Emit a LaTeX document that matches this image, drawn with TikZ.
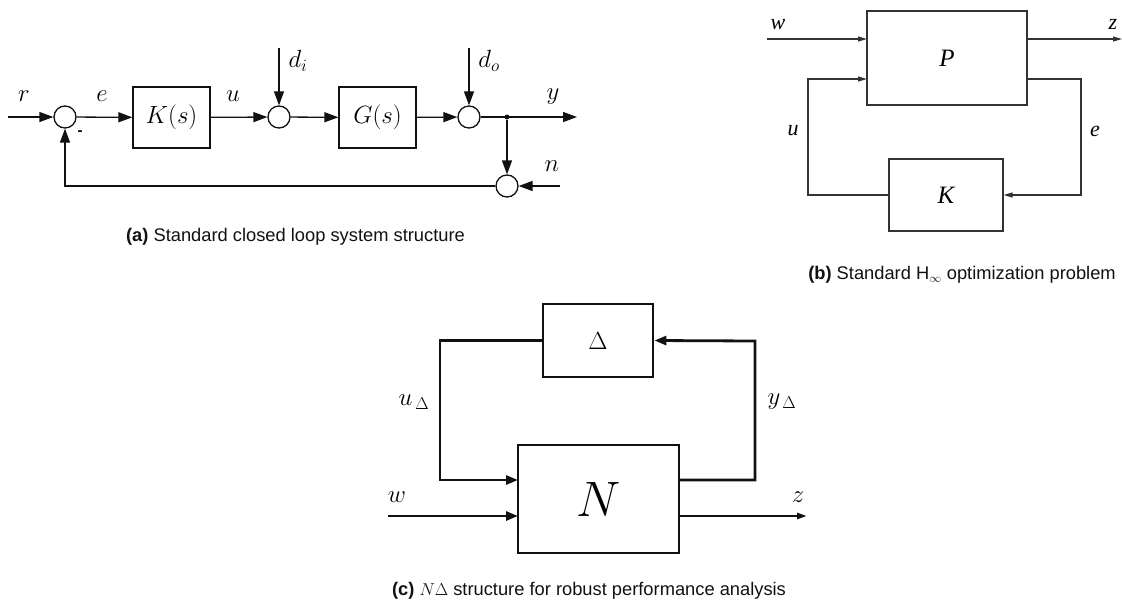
\documentclass[tikz,border=0pt]{standalone}
\usepackage{amsmath}
\usepackage{fontspec}
\setmainfont{Liberation Sans}
\newfontfamily\tmsfont{Liberation Serif}
\usepackage{tikz}
\usetikzlibrary{arrows.meta,positioning,calc}
\definecolor{Ink}{HTML}{111111}
\definecolor{Wire}{HTML}{333333}
\tikzset{
  blockA/.style={draw=Ink,line width=1.3pt,minimum width=77pt,minimum height=61pt,inner sep=0pt,font=\fontsize{26}{29}\selectfont},
  sumA/.style={draw=Ink,line width=1.3pt,circle,minimum size=22pt,inner sep=0pt},
  dotA/.style={fill=Ink,circle,minimum size=5pt,inner sep=0pt},
  sigA/.style={-{Triangle[length=14pt,width=10pt]},line width=1.3pt,draw=Ink},
  lblA/.style={font=\fontsize{26}{29}\selectfont,inner sep=0pt},
  blockB/.style={draw=Wire,line width=1.2pt,inner sep=0pt,font=\fontsize{25}{28}\selectfont\tmsfont\itshape},
  sigB/.style={-{Triangle[length=9pt,width=5pt]},line width=1.2pt,draw=Wire},
  lblB/.style={font=\fontsize{22}{25}\selectfont\tmsfont\itshape,inner sep=0pt},
  blockC/.style={draw=Ink,line width=2.8pt,inner sep=0pt},
  sigC/.style={-{Triangle[length=12pt,width=9pt]},line width=2.8pt,draw=Ink},
  lblC/.style={font=\fontsize{26}{29}\selectfont,inner sep=0pt},
  capt/.style={font=\fontsize{18.3}{21}\selectfont,text=Ink,inner sep=0pt}
}
\begin{document}
\begin{tikzpicture}[x=1pt,y=-1pt]
  \useasboundingbox (0,0) rectangle (1122,611);
  % (a) closed loop
  \node[sumA] (s1) at (65,117) {};
  \node[blockA] (K) at (171.5,117.5) {$K(s)$};
  \node[sumA] (s2) at (279,117) {};
  \node[blockA] (G) at (377.5,117.5) {$G(s)$};
  \node[sumA] (s3) at (469,117) {};
  \node[dotA] (br) at (507,117) {};
  \node[sumA] (s4) at (507,186) {};
  \coordinate (rin) at (8,117);
  \coordinate (yout) at (577,117);
  \coordinate (din) at (279,48);
  \coordinate (dout) at (469,48);
  \coordinate (nin) at (560,186);
  \draw[sigA] (rin)--(s1);
  \draw[sigA] (s1)--(K);
  \draw[sigA] (K)--(s2);
  \draw[sigA] (s2)--(G);
  \draw[sigA] (G)--(s3);
  \draw[sigA] (s3)--(yout);
  \draw[sigA] (din)--(s2);
  \draw[sigA] (dout)--(s3);
  \draw[sigA] (br)--(s4);
  \draw[sigA] (nin)--(s4);
  \draw[sigA] (s4)-|(s1);
  \node[lblA] (lr) at (24,96) {$r$};
  \node[lblA] (le) at (102,96) {$e$};
  \node[lblA] (lu) at (233,96) {$u$};
  \node[lblA] (ly) at (553,97) {$y$};
  \node[lblA] (ln) at (552,166) {$n$};
  \node[lblA] (ldi) at (298,61) {$d_i$};
  \node[lblA] (ldo) at (489,61) {$d_o$};
  \node[font=\fontsize{15}{17}\selectfont\bfseries,inner sep=0pt] (minus) at (80,133) {-};
  \node[capt] (capa) at (295.5,237) {\textbf{(a)} Standard closed loop system structure};

  % (b) H-infinity problem
  \node[blockB,minimum width=160pt,minimum height=94pt] (P) at (947,58) {P};
  \node[blockB,minimum width=114pt,minimum height=72pt] (Kb) at (946,195) {K};
  \coordinate (win) at (767,39);
  \coordinate (zout) at (1122,39);
  \coordinate (Pw) at (867,39);
  \coordinate (Pz) at (1027,39);
  \coordinate (Pu) at (867,79);
  \coordinate (Pe) at (1027,79);
  \coordinate (uc) at (808,79);
  \coordinate (ec) at (1081,195);
  \draw[sigB] (win)--(Pw);
  \draw[sigB] (Pz)--(zout);
  \draw[sigB] (Kb.west)-|(uc)--(Pu);
  \draw[sigB] (Pe)-|(ec)--(Kb.east);
  \node[lblB] (lw) at (778,25) {w};
  \node[lblB] (lz) at (1113,24) {z};
  \node[lblB] (lub) at (793,131) {u};
  \node[lblB] (leb) at (1095,131) {e};
  \node[capt] (capb) at (962,275) {\textbf{(b)} Standard H$_\infty$ optimization problem};

  % (c) N-Delta structure
  \node[blockC,minimum width=110pt,minimum height=73pt,font=\fontsize{27}{30}\selectfont] (D) at (598,340.5) {$\Delta$};
  \node[blockC,minimum width=161pt,minimum height=108pt,font=\fontsize{25.5}{28}\selectfont] (N) at (598.5,499) {\scalebox{2}{$N$}};
  \coordinate (Nu) at (518,480);
  \coordinate (Nw) at (518,516);
  \coordinate (Ny) at (679,480);
  \coordinate (Nz) at (679,516);
  \coordinate (wc) at (388,516);
  \coordinate (zc) at (807,516);
  \coordinate (ul) at (440,480);
  \coordinate (yr) at (755,341);
  \draw[sigC] (D.west)-|(ul)--(Nu);
  \draw[sigC] (Ny)-|(yr)--(D.east);
  \draw[sigC] (wc)--(Nw);
  \draw[line width=2.8pt,draw=Ink,-{Triangle[length=10pt,width=6pt]}] (Nz)--(zc);
  \node[lblC] (luD) at (414,402) {$u_{\,\Delta}$};
  \node[lblC] (lyD) at (782,402) {$y_{\,\Delta}$};
  \node[lblC] (lwc) at (397,497) {$w$};
  \node[lblC] (lzc) at (798,497) {$z$};
  \node[capt] (capc) at (589,591) {\textbf{(c)} $N\Delta$ structure for robust performance analysis};
\end{tikzpicture}
\end{document}
